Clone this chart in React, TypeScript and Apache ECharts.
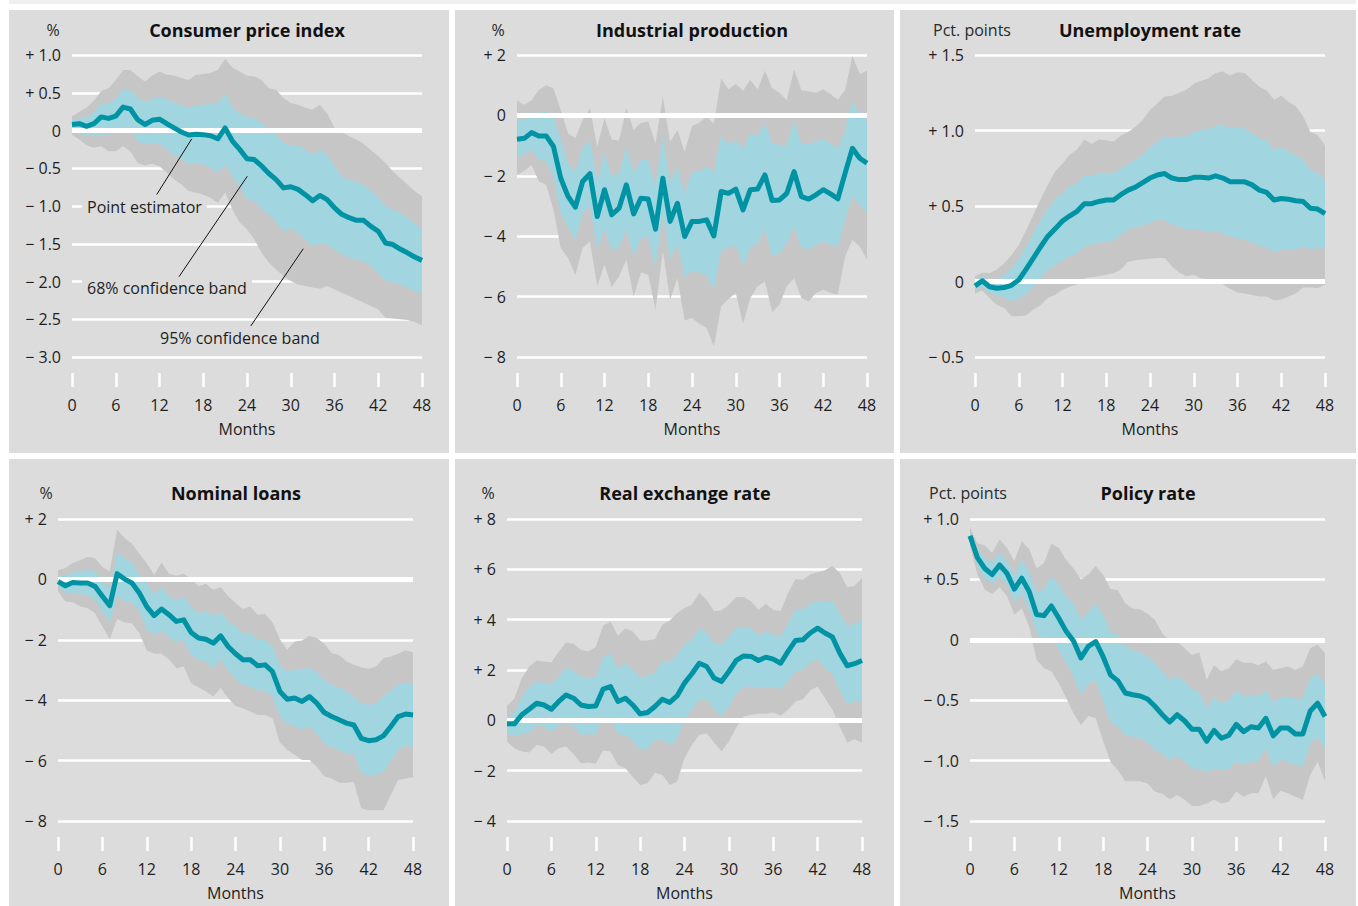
import React, { useEffect, useRef } from "react";
import * as echarts from "echarts";

const months = [
  0, 1, 2, 3, 4, 5, 6, 7, 8, 9, 10, 11, 12, 13, 14, 15, 16, 17, 18, 19, 20, 21, 22, 23, 24,
  25, 26, 27, 28, 29, 30, 31, 32, 33, 34, 35, 36, 37, 38, 39, 40, 41, 42, 43, 44, 45, 46, 47, 48,
];

// ---------- Consumer price index ----------
const cpiMean = [
  0.08, 0.09, 0.055, 0.09, 0.18, 0.16, 0.19, 0.31, 0.285, 0.145,
  0.08, 0.135, 0.15, 0.09, 0.035, -0.02, -0.06, -0.05, -0.055, -0.07,
  -0.11, 0.035, -0.14, -0.25, -0.375, -0.385, -0.47, -0.57, -0.65, -0.76,
  -0.745, -0.78, -0.85, -0.93, -0.86, -0.915, -1.025, -1.11, -1.155, -1.19,
  -1.19, -1.27, -1.335, -1.49, -1.51, -1.57, -1.62, -1.675, -1.72,
];
const cpiHi95 = [
  0.19, 0.25, 0.3, 0.395, 0.52, 0.56, 0.67, 0.8, 0.8, 0.72,
  0.65, 0.73, 0.78, 0.74, 0.73, 0.695, 0.67, 0.74, 0.75, 0.76,
  0.805, 0.95, 0.83, 0.78, 0.725, 0.72, 0.67, 0.56, 0.54, 0.43,
  0.365, 0.34, 0.3, 0.275, 0.34, 0.23, 0.035, -0.02, -0.075, -0.12,
  -0.175, -0.26, -0.34, -0.43, -0.54, -0.63, -0.715, -0.8, -0.87,
];
const cpiHi68 = [
  0.145, 0.165, 0.165, 0.25, 0.355, 0.355, 0.42, 0.55, 0.54, 0.43,
  0.37, 0.42, 0.45, 0.42, 0.37, 0.33, 0.3, 0.33, 0.34, 0.355,
  0.36, 0.49, 0.3, 0.23, 0.18, 0.165, 0.1, 0.01, -0.055, -0.165,
  -0.2, -0.19, -0.25, -0.32, -0.25, -0.32, -0.47, -0.61, -0.65, -0.685,
  -0.715, -0.8, -0.89, -1.0, -1.05, -1.09, -1.155, -1.23, -1.31,
];
const cpiLo68 = [
  -0.01, -0.04, -0.075, -0.07, -0.055, -0.055, -0.03, 0.055, 0.01, -0.14,
  -0.185, -0.165, -0.175, -0.25, -0.32, -0.375, -0.45, -0.43, -0.45, -0.495,
  -0.56, -0.45, -0.605, -0.74, -0.915, -0.935, -1.045, -1.11, -1.215, -1.335,
  -1.3, -1.355, -1.445, -1.53, -1.5, -1.51, -1.575, -1.64, -1.685, -1.71,
  -1.73, -1.795, -1.885, -1.995, -2.015, -2.04, -2.08, -2.13, -2.17,
];
const cpiLo95 = [
  -0.055, -0.12, -0.2, -0.23, -0.21, -0.275, -0.275, -0.21, -0.275, -0.43,
  -0.465, -0.44, -0.475, -0.56, -0.65, -0.715, -0.8, -0.825, -0.85, -0.89,
  -0.96, -0.825, -1.045, -1.22, -1.31, -1.44, -1.62, -1.75, -1.84, -1.93,
  -1.995, -2.04, -2.06, -2.08, -2.095, -2.06, -2.105, -2.15, -2.19, -2.235,
  -2.28, -2.325, -2.37, -2.48, -2.49, -2.5, -2.51, -2.535, -2.58,
];

// ---------- Industrial production ----------
const ipMean = [
  -0.79, -0.76, -0.57, -0.68, -0.68, -1.03, -2.08, -2.68, -3.04, -2.19,
  -1.93, -3.35, -2.46, -3.29, -3.07, -2.3, -3.26, -2.74, -2.77, -3.77,
  -2.08, -3.51, -2.91, -4.01, -3.51, -3.51, -3.46, -3.99, -2.52, -2.58,
  -2.44, -3.13, -2.46, -2.44, -1.97, -2.82, -2.8, -2.58, -1.86, -2.69,
  -2.77, -2.63, -2.46, -2.6, -2.76, -1.91, -1.09, -1.42, -1.58,
];
const ipHi95 = [
  0.49, 0.35, 0.51, 0.84, 1.0, 0.9, 0.18, -0.59, -0.76, -0.15,
  0.24, -1.03, -0.09, -0.81, -0.83, 0.24, -0.48, -0.24, -0.2, -0.92,
  0.62, -0.87, -0.48, -1.2, -0.35, -0.24, -0.04, -0.28, 1.23, 0.87,
  1.04, 0.82, 1.17, 0.87, 1.48, 0.9, 0.75, 0.51, 1.53, 0.84,
  0.79, 0.75, 0.87, 0.71, 0.51, 0.84, 1.97, 1.37, 1.48,
];
const ipHi68 = [
  -0.15, -0.15, -0.02, 0.07, 0.15, -0.06, -0.81, -1.61, -1.86, -1.09,
  -0.81, -2.19, -1.25, -2.0, -1.91, -1.03, -1.91, -1.47, -1.47, -2.35,
  -0.65, -2.19, -1.69, -2.58, -1.89, -1.86, -1.69, -1.91, -0.65, -0.98,
  -0.81, -1.12, -0.59, -0.68, -0.26, -0.92, -0.98, -1.01, -0.17, -0.92,
  -0.94, -0.87, -0.79, -0.92, -1.09, -0.48, 0.46, 0.02, -0.15,
];
const ipLo68 = [
  -1.42, -1.27, -1.14, -1.47, -1.53, -2.02, -3.24, -3.68, -4.14, -3.24,
  -3.02, -4.43, -3.77, -4.47, -4.34, -3.79, -4.67, -4.06, -4.06, -5.06,
  -3.24, -4.78, -4.23, -5.39, -5.13, -5.22, -5.28, -5.77, -4.47, -4.39,
  -4.28, -5.0, -4.39, -4.23, -3.79, -4.67, -4.56, -4.23, -3.68, -4.36,
  -4.45, -4.28, -4.17, -4.28, -4.36, -3.46, -2.68, -2.96, -3.24,
];
const ipLo95 = [
  -1.97, -1.83, -1.64, -2.19, -2.3, -3.13, -4.39, -4.72, -5.28, -4.39,
  -4.17, -5.66, -4.94, -5.68, -5.33, -4.78, -6.0, -5.2, -5.28, -6.44,
  -4.5, -6.1, -5.39, -6.79, -6.71, -6.9, -7.04, -7.65, -6.32, -6.08,
  -5.88, -6.9, -6.05, -5.66, -5.5, -6.52, -6.27, -5.66, -5.39, -6.05,
  -6.16, -5.88, -5.77, -5.88, -5.94, -4.67, -4.12, -4.34, -4.78,
];

// ---------- Unemployment rate ----------
const unMean = [
  -0.03, 0.005, -0.035, -0.045, -0.04, -0.025, 0.01, 0.08, 0.155, 0.23,
  0.3, 0.35, 0.4, 0.435, 0.465, 0.515, 0.515, 0.53, 0.54, 0.54,
  0.575, 0.605, 0.625, 0.655, 0.685, 0.705, 0.715, 0.685, 0.675, 0.675,
  0.69, 0.69, 0.685, 0.7, 0.685, 0.66, 0.66, 0.66, 0.64, 0.605,
  0.59, 0.54, 0.55, 0.545, 0.535, 0.53, 0.485, 0.48, 0.45,
];
const unHi95 = [
  0.035, 0.06, 0.055, 0.08, 0.12, 0.175, 0.24, 0.34, 0.44, 0.545,
  0.64, 0.73, 0.78, 0.84, 0.875, 0.94, 0.91, 0.94, 0.935, 0.925,
  0.965, 0.99, 1.025, 1.07, 1.135, 1.18, 1.225, 1.23, 1.25, 1.27,
  1.31, 1.33, 1.345, 1.38, 1.39, 1.365, 1.385, 1.38, 1.335, 1.29,
  1.265, 1.205, 1.23, 1.19, 1.16, 1.095, 0.99, 0.97, 0.9,
];
const unHi68 = [
  0.01, 0.035, 0.01, 0.01, 0.045, 0.09, 0.15, 0.23, 0.32, 0.41,
  0.485, 0.545, 0.585, 0.63, 0.65, 0.705, 0.7, 0.715, 0.715, 0.715,
  0.75, 0.78, 0.805, 0.84, 0.89, 0.925, 0.96, 0.955, 0.96, 0.96,
  0.99, 1.005, 1.01, 1.03, 1.035, 1.015, 1.02, 1.015, 0.98, 0.95,
  0.935, 0.87, 0.89, 0.86, 0.84, 0.805, 0.74, 0.715, 0.67,
];
const unLo68 = [
  -0.055, -0.035, -0.075, -0.095, -0.105, -0.13, -0.115, -0.08, -0.03, 0.02,
  0.075, 0.11, 0.14, 0.165, 0.185, 0.23, 0.245, 0.255, 0.265, 0.27,
  0.31, 0.345, 0.36, 0.37, 0.39, 0.405, 0.41, 0.375, 0.365, 0.345,
  0.35, 0.34, 0.33, 0.335, 0.32, 0.3, 0.285, 0.275, 0.26, 0.235,
  0.225, 0.2, 0.21, 0.21, 0.215, 0.23, 0.215, 0.22, 0.22,
];
const unLo95 = [
  -0.08, -0.06, -0.11, -0.155, -0.175, -0.23, -0.23, -0.225, -0.185, -0.155,
  -0.11, -0.09, -0.055, -0.035, -0.02, 0.02, 0.03, 0.035, 0.045, 0.055,
  0.08, 0.13, 0.14, 0.145, 0.15, 0.155, 0.155, 0.1, 0.06, 0.035,
  0.045, 0.02, 0.015, 0.01, -0.02, -0.05, -0.075, -0.08, -0.09, -0.1,
  -0.1, -0.125, -0.12, -0.1, -0.08, -0.04, -0.04, -0.045, -0.02,
];

// ---------- Nominal loans ----------
const loMean = [
  -0.07, -0.21, -0.1, -0.12, -0.12, -0.23, -0.56, -0.87, 0.19, 0.01,
  -0.12, -0.45, -0.9, -1.2, -0.98, -1.17, -1.39, -1.34, -1.76, -1.94,
  -1.98, -2.11, -1.87, -2.22, -2.46, -2.66, -2.66, -2.86, -2.83, -3.05,
  -3.71, -3.97, -3.93, -4.04, -3.88, -4.1, -4.41, -4.54, -4.65, -4.76,
  -4.82, -5.26, -5.34, -5.31, -5.18, -4.87, -4.54, -4.46, -4.49,
];
const loHi95 = [
  0.3, 0.38, 0.54, 0.63, 0.74, 0.71, 0.41, 0.27, 1.65, 1.37,
  1.18, 0.85, 0.54, 0.15, 0.56, 0.19, 0.12, 0.19, 0.01, -0.23,
  -0.14, -0.34, -0.25, -0.56, -0.78, -0.98, -0.9, -1.17, -1.14, -1.43,
  -1.98, -2.33, -2.06, -2.02, -1.87, -1.94, -2.13, -2.44, -2.5, -2.72,
  -2.83, -2.91, -2.97, -2.88, -2.61, -2.55, -2.46, -2.35, -2.42,
];
const loHi68 = [
  0.1, 0.12, 0.23, 0.27, 0.32, 0.27, -0.07, -0.34, 0.9, 0.71,
  0.54, 0.15, -0.12, -0.51, -0.25, -0.56, -0.7, -0.56, -0.9, -1.12,
  -1.06, -1.2, -1.09, -1.36, -1.58, -1.78, -1.76, -1.98, -2.0, -2.22,
  -2.83, -3.05, -2.99, -2.99, -2.91, -3.08, -3.33, -3.49, -3.57, -3.71,
  -3.88, -4.1, -4.15, -4.1, -3.88, -3.68, -3.49, -3.41, -3.46,
];
const loLo68 = [
  -0.23, -0.45, -0.43, -0.48, -0.51, -0.67, -1.06, -1.43, -0.56, -0.73,
  -0.78, -1.06, -1.65, -1.83, -1.72, -1.89, -2.09, -2.0, -2.49, -2.66,
  -2.72, -2.94, -2.64, -3.02, -3.3, -3.49, -3.55, -3.68, -3.68, -3.86,
  -4.54, -4.78, -4.85, -4.98, -4.87, -5.12, -5.43, -5.56, -5.65, -5.76,
  -5.76, -6.4, -6.51, -6.48, -6.36, -6.03, -5.65, -5.51, -5.54,
];
const loLo95 = [
  -0.4, -0.73, -0.76, -0.9, -0.95, -1.12, -1.56, -1.98, -1.31, -1.43,
  -1.45, -1.78, -2.35, -2.46, -2.46, -2.64, -2.94, -2.88, -3.44, -3.57,
  -3.71, -3.88, -3.6, -3.93, -4.19, -4.27, -4.38, -4.49, -4.49, -4.6,
  -5.4, -5.65, -5.81, -5.98, -5.98, -6.2, -6.53, -6.59, -6.73, -6.73,
  -6.7, -7.58, -7.64, -7.64, -7.64, -7.14, -6.64, -6.59, -6.55,
];

// ---------- Real exchange rate ----------
const rxMean = [
  -0.14, -0.14, 0.22, 0.44, 0.68, 0.61, 0.44, 0.75, 1.01, 0.88,
  0.61, 0.55, 0.57, 1.24, 1.34, 0.75, 0.88, 0.61, 0.26, 0.31,
  0.55, 0.84, 0.71, 0.97, 1.48, 1.85, 2.27, 2.14, 1.68, 1.54,
  1.94, 2.38, 2.56, 2.54, 2.38, 2.51, 2.43, 2.27, 2.74, 3.17,
  3.2, 3.47, 3.66, 3.47, 3.31, 2.67, 2.17, 2.25, 2.38,
];
const rxHi95 = [
  0.57, 0.88, 1.68, 2.14, 2.38, 2.34, 2.3, 2.74, 3.09, 3.04,
  2.8, 2.74, 2.91, 3.76, 3.93, 3.36, 3.66, 3.53, 3.17, 3.17,
  3.23, 3.8, 3.97, 4.26, 4.46, 4.59, 5.06, 4.79, 4.33, 4.37,
  4.59, 4.9, 4.9, 4.73, 4.39, 4.63, 4.39, 4.33, 5.06, 5.61,
  5.59, 5.79, 5.88, 5.96, 6.14, 5.85, 5.29, 5.35, 5.65,
];
const rxHi68 = [
  0.15, 0.31, 0.92, 1.32, 1.54, 1.5, 1.41, 1.74, 2.07, 1.98,
  1.74, 1.68, 1.72, 2.51, 2.67, 2.07, 2.27, 2.01, 1.68, 1.77,
  1.9, 2.34, 2.34, 2.6, 3.0, 3.2, 3.66, 3.49, 3.07, 3.0,
  3.33, 3.66, 3.73, 3.66, 3.36, 3.53, 3.4, 3.31, 3.87, 4.39,
  4.39, 4.63, 4.76, 4.73, 4.73, 4.26, 3.76, 3.84, 4.02,
];
const rxLo68 = [
  -0.49, -0.65, -0.54, -0.49, -0.18, -0.25, -0.45, -0.22, -0.12, -0.25,
  -0.58, -0.54, -0.58, 0.15, -0.01, -0.54, -0.58, -0.78, -1.18, -1.11,
  -0.78, -0.75, -0.98, -0.75, 0.04, 0.42, 0.81, 0.81, 0.44, 0.15,
  0.55, 1.08, 1.32, 1.34, 1.28, 1.34, 1.32, 1.24, 1.54, 1.94,
  2.01, 2.3, 2.43, 2.07, 1.85, 1.21, 0.65, 0.75, 0.75,
];
const rxLo95 = [
  -0.84, -1.11, -1.24, -1.28, -0.98, -1.04, -1.34, -1.11, -1.04, -1.34,
  -1.71, -1.68, -1.73, -1.2, -1.24, -1.77, -1.9, -2.24, -2.57, -2.5,
  -2.08, -2.17, -2.57, -2.44, -1.51, -0.98, -0.58, -0.51, -0.88, -1.24,
  -0.84, -0.28, 0.15, 0.22, 0.26, 0.26, 0.31, 0.18, 0.42, 0.75,
  0.84, 1.19, 1.34, 0.88, 0.42, -0.25, -0.88, -0.75, -0.88,
];

// ---------- Policy rate ----------
const prMean = [
  0.86, 0.68, 0.59, 0.54, 0.62, 0.55, 0.42, 0.51, 0.4, 0.21,
  0.2, 0.28, 0.18, 0.07, -0.01, -0.15, -0.055, -0.015, -0.14, -0.29,
  -0.34, -0.44, -0.455, -0.465, -0.49, -0.55, -0.62, -0.68, -0.62, -0.67,
  -0.74, -0.74, -0.84, -0.75, -0.815, -0.79, -0.7, -0.76, -0.72, -0.73,
  -0.65, -0.795, -0.73, -0.73, -0.78, -0.78, -0.59, -0.525, -0.635,
];
const prHi95 = [
  0.93, 0.8, 0.78, 0.72, 0.83, 0.76, 0.65, 0.815, 0.75, 0.59,
  0.635, 0.795, 0.76, 0.66, 0.59, 0.5, 0.54, 0.61, 0.54, 0.42,
  0.41, 0.3, 0.26, 0.25, 0.215, 0.165, 0.055, -0.015, -0.015, -0.07,
  -0.125, -0.105, -0.33, -0.21, -0.26, -0.235, -0.16, -0.19, -0.19, -0.21,
  -0.18, -0.25, -0.235, -0.22, -0.25, -0.22, -0.07, -0.04, -0.11,
];
const prHi68 = [
  0.9, 0.745, 0.68, 0.635, 0.72, 0.65, 0.53, 0.66, 0.565, 0.4,
  0.415, 0.53, 0.455, 0.36, 0.3, 0.165, 0.235, 0.3, 0.21, 0.06,
  0.04, -0.055, -0.08, -0.105, -0.14, -0.19, -0.26, -0.33, -0.3, -0.345,
  -0.41, -0.43, -0.57, -0.475, -0.525, -0.5, -0.42, -0.47, -0.455, -0.47,
  -0.415, -0.52, -0.475, -0.47, -0.49, -0.485, -0.32, -0.28, -0.37,
];
const prLo68 = [
  0.815, 0.61, 0.51, 0.47, 0.525, 0.455, 0.32, 0.38, 0.255, 0.06,
  0.0, 0.03, -0.08, -0.19, -0.3, -0.455, -0.36, -0.345, -0.5, -0.68,
  -0.72, -0.795, -0.8, -0.815, -0.845, -0.91, -0.945, -1.0, -0.96, -1.01,
  -1.065, -1.07, -1.09, -1.065, -1.08, -1.07, -1.01, -1.03, -1.01, -1.0,
  -0.9, -1.05, -0.995, -1.01, -1.035, -1.05, -0.855, -0.8, -0.9,
];
const prLo95 = [
  0.78, 0.54, 0.415, 0.38, 0.435, 0.36, 0.21, 0.26, 0.11, -0.165,
  -0.235, -0.26, -0.36, -0.48, -0.61, -0.705, -0.63, -0.65, -0.84, -1.01,
  -1.08, -1.17, -1.17, -1.17, -1.19, -1.255, -1.275, -1.32, -1.285, -1.325,
  -1.375, -1.375, -1.355, -1.325, -1.355, -1.34, -1.255, -1.3, -1.27, -1.27,
  -1.13, -1.32, -1.25, -1.27, -1.3, -1.325, -1.12, -1.01, -1.17,
];

// Leader lines of the CPI annotations, in data coordinates [month, value]
const cpiLeaders = [
  [[11.62, -0.848], [16.42, -0.111]],
  [[14.67, -1.937], [24.04, -0.606]],
  [[24.51, -2.59], [31.72, -1.566]],
];

const panels = [
  { title: "Consumer price index", unit: "%", dec: 1, min: -3, max: 1, step: 0.5, mean: cpiMean, lo95: cpiLo95, lo68: cpiLo68, hi68: cpiHi68, hi95: cpiHi95 },
  { title: "Industrial production", unit: "%", dec: 0, min: -8, max: 2, step: 2, mean: ipMean, lo95: ipLo95, lo68: ipLo68, hi68: ipHi68, hi95: ipHi95 },
  { title: "Unemployment rate", unit: "Pct. points", dec: 1, min: -0.5, max: 1.5, step: 0.5, mean: unMean, lo95: unLo95, lo68: unLo68, hi68: unHi68, hi95: unHi95 },
  { title: "Nominal loans", unit: "%", dec: 0, min: -8, max: 2, step: 2, mean: loMean, lo95: loLo95, lo68: loLo68, hi68: loHi68, hi95: loHi95 },
  { title: "Real exchange rate", unit: "%", dec: 0, min: -4, max: 8, step: 2, mean: rxMean, lo95: rxLo95, lo68: rxLo68, hi68: rxHi68, hi95: rxHi95 },
  { title: "Policy rate", unit: "Pct. points", dec: 1, min: -1.5, max: 1.0, step: 0.5, mean: prMean, lo95: prLo95, lo68: prLo68, hi68: prHi68, hi95: prHi95 },
];

// Layout (pixels)
const layouts = [
  { bg: [9, 10, 440, 443], grid: { left: 72, top: 55, width: 350, height: 302 }, titleX: 247, titleY: 30, unitX: 53 },
  { bg: [455, 10, 439, 443], grid: { left: 517, top: 55, width: 350, height: 302 }, titleX: 692, titleY: 30, unitX: 498 },
  { bg: [900, 10, 456, 443], grid: { left: 975, top: 55, width: 350, height: 302 }, titleX: 1150, titleY: 30, unitX: 972 },
  { bg: [9, 459, 440, 447], grid: { left: 58, top: 519, width: 355, height: 302 }, titleX: 236, titleY: 493, unitX: 46 },
  { bg: [455, 459, 439, 447], grid: { left: 507, top: 519, width: 355, height: 302 }, titleX: 685, titleY: 493, unitX: 488 },
  { bg: [900, 459, 456, 447], grid: { left: 970, top: 519, width: 355, height: 302 }, titleX: 1148, titleY: 493, unitX: 968 },
];

const FONT = '"Open Sans", "Noto Sans", sans-serif';
const PANEL_BG = "#dcdcdc";
const GRAY = "#c6c6c6";
const BLUE = "#a1d5e0";
const TEAL = "#0093a4";
const TEXT = "#1e1e1e";

const fmt = (dec: number) => (v: number) => {
  if (Math.abs(v) < 1e-9) return "0";
  const s = Math.abs(v).toFixed(dec);
  return (v > 0 ? "+ " : "\u2212 ") + s;
};

// custom series: draws one filled band polygon between two bound arrays
const bandSeries = (i: number, lo: number[], hi: number[], color: string, z: number) => ({
  type: "custom",
  xAxisIndex: i,
  yAxisIndex: i,
  silent: true,
  z,
  data: months.map((m) => [m, lo[m], hi[m]]),
  encode: { x: 0, y: [1, 2] },
  renderItem: (params: any, api: any) => {
    if (params.dataIndex !== 0) return null;
    const upper = months.map((m) => api.coord([m, hi[m]]));
    const lower = months.map((m) => api.coord([m, lo[m]])).reverse();
    return {
      type: "polygon",
      shape: { points: upper.concat(lower) },
      style: { fill: color, stroke: null },
    };
  },
});

export default function App() {
  const ref = useRef<HTMLDivElement>(null);

  useEffect(() => {
    if (!ref.current) return;
    const chart = echarts.init(ref.current, null, { renderer: "svg" });

    const grids: any[] = [];
    const xAxes: any[] = [];
    const yAxes: any[] = [];
    const series: any[] = [];
    const graphics: any[] = [];

    panels.forEach((p, i) => {
      const l = layouts[i];
      grids.push({ ...l.grid, containLabel: false, outerBoundsMode: "none" });
      xAxes.push({
        type: "value",
        gridIndex: i,
        min: 0,
        max: 48,
        interval: 6,
        offset: 16,
        axisLine: { show: true, onZero: false, lineStyle: { color: "rgba(0,0,0,0)", width: 0 } },
        axisTick: { show: true, inside: false, length: 14, lineStyle: { color: "#ffffff", width: 2.5 } },
        axisLabel: { margin: 24, fontSize: 16, color: TEXT, fontFamily: FONT },
        splitLine: { show: false },
        name: "Months",
        nameLocation: "middle",
        nameGap: 48,
        nameTextStyle: { fontSize: 16, color: TEXT, fontFamily: FONT },
      });
      yAxes.push({
        type: "value",
        gridIndex: i,
        min: p.min,
        max: p.max,
        interval: p.step,
        axisLine: { show: false },
        axisTick: { show: false },
        axisLabel: { margin: 11, fontSize: 16, color: TEXT, fontFamily: FONT, formatter: fmt(p.dec) },
        splitLine: { show: true, lineStyle: { color: "#ffffff", width: 2.5 } },
      });

      series.push(bandSeries(i, p.lo95, p.hi95, GRAY, 2));
      series.push(bandSeries(i, p.lo68, p.hi68, BLUE, 3));
      series.push({
        type: "line",
        xAxisIndex: i,
        yAxisIndex: i,
        data: months.map((m) => [m, p.mean[m]]),
        symbol: "none",
        silent: true,
        z: 10,
        lineStyle: { color: TEAL, width: 5, join: "round" },
        markLine: {
          silent: true,
          symbol: ["none", "none"],
          z: 5,
          label: { show: false },
          lineStyle: { color: "#ffffff", width: 5, type: "solid" },
          data: [{ yAxis: 0 }],
        },
      });
      if (i === 0) {
        series.push({
          type: "line",
          xAxisIndex: 0,
          yAxisIndex: 0,
          data: [],
          silent: true,
          z: 6,
          markLine: {
            silent: true,
            symbol: ["none", "none"],
            z: 6,
            label: { show: false },
            lineStyle: { color: "#111111", width: 1, type: "solid" },
            data: cpiLeaders.map(([a, b]) => [{ coord: a }, { coord: b }]),
          },
        });
      }

      graphics.push({
        type: "text",
        x: l.titleX,
        y: l.titleY,
        z: 100,
        style: { text: p.title, font: `bold 18px ${FONT}`, fill: "#111111", align: "center", verticalAlign: "middle" },
      });
      graphics.push({
        type: "text",
        x: l.unitX,
        y: l.titleY,
        z: 100,
        style: { text: p.unit, font: `16px ${FONT}`, fill: "#2a2a2a", align: "center", verticalAlign: "middle" },
      });
    });

    const annot = [
      { text: "Point estimator", x: 82, y: 207 },
      { text: "68% confidence band", x: 82, y: 288 },
      { text: "95% confidence band", x: 155, y: 338 },
    ];
    annot.forEach((a) =>
      graphics.push({
        type: "text",
        x: a.x,
        y: a.y,
        z: 100,
        style: {
          text: a.text,
          font: `16px ${FONT}`,
          fill: TEXT,
          align: "left",
          verticalAlign: "middle",
          backgroundColor: PANEL_BG,
          padding: [2, 5, 2, 5],
        },
      })
    );

    chart.setOption({
      animation: false,
      backgroundColor: "transparent",
      textStyle: { fontFamily: FONT },
      grid: grids,
      xAxis: xAxes,
      yAxis: yAxes,
      series,
      graphic: graphics,
    });

    return () => chart.dispose();
  }, []);

  return (
    <div style={{ position: "absolute", left: 0, top: 0, width: 1358, height: 906, background: "#ffffff", overflow: "hidden" }}>
      <div style={{ position: "absolute", left: 9, top: 0, width: 1347, height: 4, background: "#efefef" }} />
      {layouts.map((l, i) => (
        <div
          key={i}
          style={{ position: "absolute", left: l.bg[0], top: l.bg[1], width: l.bg[2], height: l.bg[3], background: PANEL_BG }}
        />
      ))}
      <div ref={ref} style={{ position: "absolute", left: 0, top: 0, width: 1358, height: 906 }} />
    </div>
  );
}
